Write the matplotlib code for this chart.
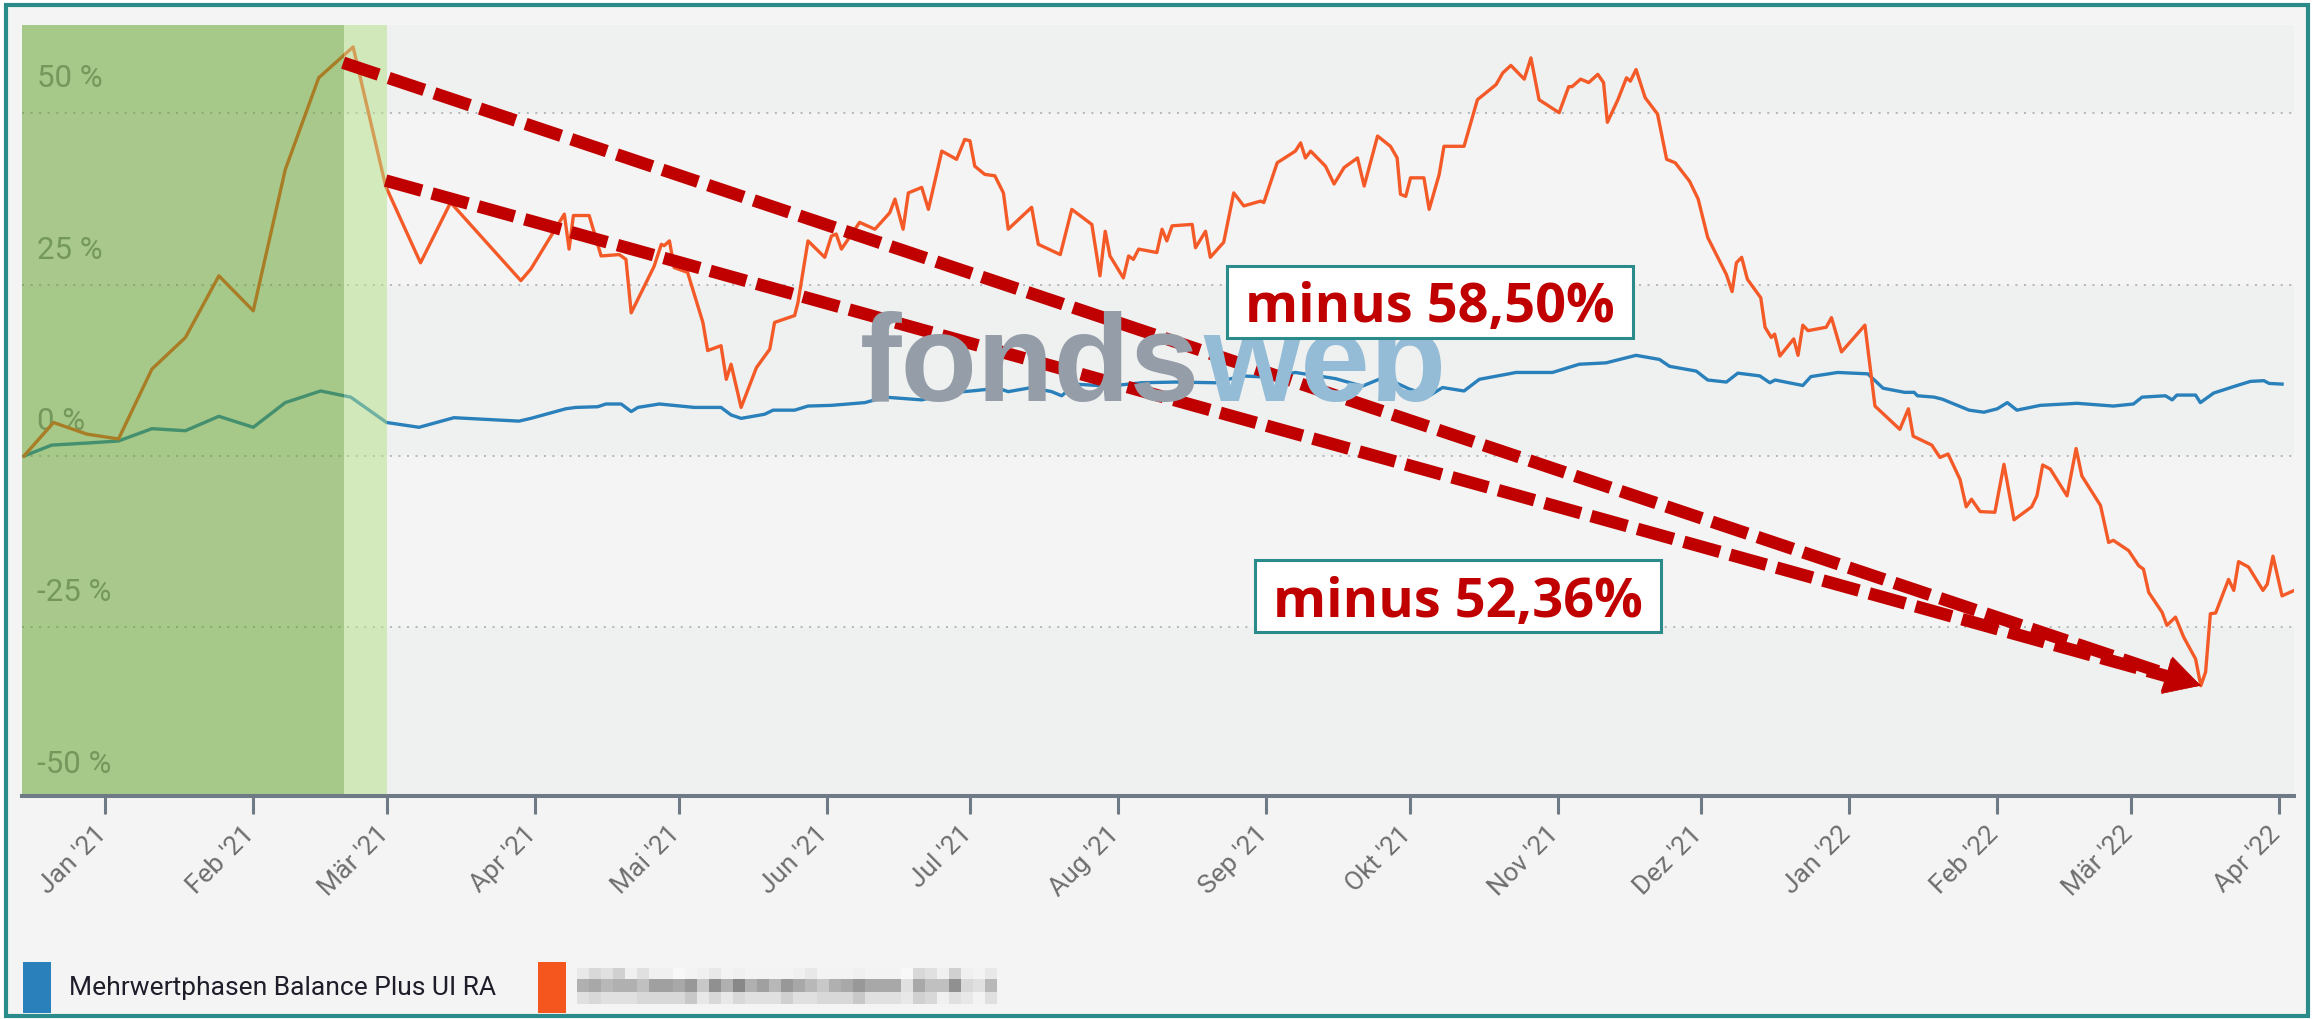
import numpy as np
import pandas as pd
import matplotlib
matplotlib.use("Agg")
import matplotlib.pyplot as plt
import matplotlib.dates as mdates
from matplotlib.patches import Rectangle
from matplotlib.transforms import ScaledTranslation, blended_transform_factory

plt.rcParams["font.family"] = ["Roboto", "DejaVu Sans"]

W, H = 2318, 1020
START = pd.Timestamp("2021-01-01")

# days after 1 Jan 2021 and performance in %
blue_days = [-17, -11.2, -3.8, 2.8, 9.8, 16.8, 23.8, 31.0, 37.7, 45.1, 51.4, 58.9, 65.7, 73.0,
             86.6, 89.1, 96.4, 98.5, 103.1, 104.8, 108.0, 110.1, 111.5, 116.0, 123.3, 128.9,
             131.0, 133.1, 138.0, 139.8, 144.3, 147.1, 152.0, 159.0, 163.2, 170.9, 177.8,
             181.3, 186.9, 189.0, 193.9, 198.1, 200.2, 203.0, 210.0, 217.0, 224.0, 232.4,
             237.9, 243.5, 249.1, 257.5, 263.1, 266.6, 270.1, 272.9, 277.1, 279.9, 284.4,
             287.6, 295.3, 299.1, 302.9, 308.5, 314.1, 320.4, 325.3, 327.4, 333.0, 335.4,
             339.3, 341.7, 346.3, 348.4, 349.5, 355.3, 357.0, 362.6, 368.9, 372.1, 376.6,
             378.6, 379.3, 382.8, 384.5, 390.1, 393.2, 396.0, 398.1, 400.1, 405.0, 412.7,
             420.3, 424.5, 426.3, 431.2, 432.6, 433.6, 437.5, 438.5, 441.3, 446.2, 449.0,
             451.8, 452.9, 455.6]
blue_vals = [0.0, 1.6, 1.9, 2.2, 4.0, 3.7, 5.8, 4.2, 7.8, 9.5, 8.6, 4.9, 4.2, 5.6,
             5.1, 5.5, 6.9, 7.1, 7.2, 7.6, 7.6, 6.5, 7.1, 7.6, 7.1, 7.1,
             6.0, 5.5, 6.1, 6.7, 6.7, 7.3, 7.4, 7.8, 8.6, 8.2, 9.3,
             9.5, 9.9, 9.4, 10.0, 9.4, 8.8, 10.5, 10.2, 10.7, 10.8, 10.7,
             11.7, 11.5, 12.2, 11.3, 10.2, 11.2, 10.7, 9.8, 8.8, 10.0, 9.5,
             11.2, 12.2, 12.2, 12.2, 13.4, 13.6, 14.7, 14.1, 13.1, 12.4, 11.1,
             10.8, 12.1, 11.7, 10.7, 11.1, 10.3, 11.6, 12.2, 12.0, 9.9, 9.3,
             9.3, 8.8, 8.6, 8.3, 6.7, 6.4, 6.9, 7.8, 6.7, 7.4, 7.7,
             7.3, 7.6, 8.6, 8.8, 8.2, 8.9, 8.9, 7.8, 9.2, 10.3, 10.9,
             11.0, 10.6, 10.5]

orange_days = [-17, -10.8, -3.8, 2.8, 9.8, 16.8, 23.8, 31.0, 37.7, 44.7, 51.9, 58.7, 66.0,
               72.3, 87.0, 89.1, 96.1, 97.1, 98.0, 101.3, 103.8, 107.6, 109.0, 110.1, 114.9,
               116.4, 117.0, 118.1, 119.1, 121.9, 125.1, 126.1, 128.9, 130.0, 131.0, 133.1,
               136.3, 139.1, 140.1, 144.3, 145.0, 147.1, 150.6, 152.0, 153.0, 154.1, 157.9,
               161.1, 164.2, 165.3, 167.0, 168.1, 170.9, 172.3, 175.1, 178.2, 179.9, 181.0,
               182.0, 184.1, 186.2, 188.0, 189.0, 193.9, 195.3, 199.9, 202.3, 206.5, 208.2,
               209.3, 210.3, 213.1, 214.2, 215.2, 216.3, 220.1, 221.2, 222.2, 223.3, 227.5,
               228.2, 230.3, 231.3, 234.1, 236.2, 238.3, 241.8, 242.5, 245.3, 249.1, 250.2,
               251.2, 252.3, 255.4, 257.2, 259.3, 262.1, 263.5, 266.3, 269.0, 270.4, 271.1,
               272.2, 273.2, 276.0, 277.1, 279.2, 280.2, 284.4, 287.2, 291.1, 292.5, 294.2,
               297.0, 298.4, 300.1, 304.3, 306.3, 307.0, 308.8, 310.5, 312.4, 313.6, 314.4,
               316.6, 318.4, 319.2, 320.4, 322.3, 324.9, 326.8, 328.6, 331.6, 333.4, 335.4,
               339.3, 340.5, 341.4, 342.5, 343.7, 346.5, 347.4, 348.7, 349.4, 350.5, 353.4,
               354.3, 355.3, 356.4, 360.2, 361.3, 363.4, 368.3, 370.4, 375.6, 377.4, 378.4,
               382.3, 384.0, 385.7, 388.2, 389.5, 390.6, 392.4, 395.5, 397.4, 399.5, 403.2,
               404.3, 405.5, 407.1, 410.6, 412.5, 413.7, 417.6, 419.3, 420.3, 423.5, 425.6,
               426.6, 427.7, 430.5, 431.5, 433.3, 435.0, 437.5, 438.6, 439.6, 440.6, 441.7,
               444.4, 445.5, 446.5, 448.6, 451.6, 452.5, 453.7, 455.6, 458.8]
orange_vals = [0.0, 4.9, 3.2, 2.5, 12.7, 17.3, 26.3, 21.2, 41.8, 55.2, 59.7, 39.4, 28.2,
               37.0, 25.6, 27.3, 35.3, 30.2, 35.1, 35.1, 29.2, 29.4, 28.7, 20.9, 27.7,
               30.9, 30.7, 31.4, 27.5, 26.8, 19.5, 15.4, 16.1, 11.2, 13.4, 7.1,
               12.9, 15.6, 19.5, 20.5, 22.4, 31.4, 29.0, 32.1, 32.4, 30.2, 34.1,
               33.1, 35.5, 37.5, 33.1, 38.4, 39.2, 36.0, 44.5, 43.3, 46.2, 46.0,
               42.3, 41.1, 40.9, 38.4, 33.1, 36.3, 30.9, 29.4, 36.0, 33.8, 26.3,
               32.8, 29.2, 26.0, 29.2, 28.7, 30.2, 29.7, 33.1, 31.4, 33.6, 33.8,
               30.4, 32.8, 29.0, 31.2, 38.4, 36.5, 37.2, 37.0, 42.8, 44.5, 45.7,
               43.5, 44.5, 42.3, 39.7, 42.1, 43.5, 39.4, 46.7, 45.2, 43.5, 38.2,
               37.9, 40.6, 40.6, 36.0, 41.1, 45.2, 45.2, 52.0, 54.2, 55.9, 57.0,
               55.0, 58.1, 52.0, 50.1, 53.9, 53.9, 55.0, 54.5, 55.7, 54.5, 48.7,
               52.0, 55.2, 54.7, 56.4, 52.3, 49.9, 43.3, 42.8, 40.1, 37.5, 31.9,
               26.5, 24.0, 28.2, 29.0, 25.8, 23.1, 18.8, 17.3, 17.8, 14.6, 17.1,
               14.7, 19.1, 18.3, 18.8, 20.2, 15.2, 19.1, 7.3, 3.9, 6.9, 2.9,
               1.6, -0.2, 0.3, -3.4, -7.4, -6.3, -8.1, -8.2, -1.2, -9.3, -7.4,
               -5.8, -1.3, -1.9, -5.8, 1.1, -2.9, -7.2, -12.6, -12.3, -13.8, -16.0,
               -16.5, -19.9, -22.8, -24.7, -23.5, -26.4, -29.6, -33.5, -31.5, -23.0, -22.9,
               -18.0, -19.6, -15.4, -16.2, -19.6, -18.7, -14.6, -20.4, -19.4]

tick_labels = ["Jan '21", "Feb '21", "Mär '21", "Apr '21", "Mai '21", "Jun '21", "Jul '21",
               "Aug '21", "Sep '21", "Okt '21", "Nov '21", "Dez '21", "Jan '22", "Feb '22",
               "Mär '22", "Apr '22"]
ytick_vals = [50, 25, 0, -25, -50]
ytick_labels = ["50 %", "25 %", "0 %", "-25 %", "-50 %"]
legend_label = "Mehrwertphasen Balance Plus UI RA"
box_texts = ["minus 58,50%", "minus 52,36%"]

# shaded periods (green) and arrow start points (day, %)
shade_dark_end = "2021-02-20"
shade_light_end = "2021-03-01"
arrow_starts = [(49.8, 57.4), (58.7, 40.2)]

# pixelated (blurred) name of the second fund, gray level per block: '.' = background
blur_rows = ["dbcaeceef.ed.e....ed...e...fbceae.d",
             "657668445392616473579653555c5882bc7",
             "cbcccbbbb9dbdbcccaccbbb9cccdabecd.c"]

BLUE = "#2a80ba"
ORANGE = "#f45a28"
RED = "#c00000"
TEAL = "#2b8b8a"


def fx(x):
    return x / W


def fy(y):
    return 1 - y / H


def to_dates(days):
    return START + pd.to_timedelta(np.array(days, dtype=float), unit="D")


def dnum(ts):
    return mdates.date2num(pd.Timestamp(ts).to_pydatetime())


fig = plt.figure(figsize=(W / 100, H / 100), dpi=100)
fig.patch.set_facecolor("white")

# outer frame
frame = Rectangle((fx(6), fy(1017)), fx(2308) - fx(6), fy(6) - fy(1017), transform=fig.transFigure,
                  facecolor="#f4f4f4", edgecolor=TEAL, lw=3, zorder=-2)
fig.add_artist(frame)

ax = fig.add_axes([fx(22), fy(797), fx(2294) - fx(22), fy(26) - fy(797)])
ax.set_facecolor("#f4f4f4")

blue_x = to_dates(blue_days)
orange_x = to_dates(orange_days)

ax.plot(blue_x, blue_vals, color=BLUE, lw=2.4, zorder=3, solid_joinstyle="round")
ax.plot(orange_x, orange_vals, color=ORANGE, lw=2.4, zorder=3.5, solid_joinstyle="round")

ax.set_xlim(dnum(START + pd.Timedelta(days=-17.4)), dnum(START + pd.Timedelta(days=458.1)))
ax.set_ylim(-49.6, 62.9)

# alternating plot bands
for lo, hi in [(50, 70), (0, 25), (-60, -25)]:
    ax.axhspan(lo, hi, color="#eff1f0", lw=0, zorder=0)

for v in ytick_vals[:-1]:
    ax.axhline(v, color="#a2a6ad", lw=1.1, ls=(0, (1.3, 4.3)), zorder=1)

# y labels sit inside the plot, above their grid lines
ylab_tr = blended_transform_factory(ax.transAxes, ax.transData) + \
    ScaledTranslation(0, 27 / 100, fig.dpi_scale_trans)
for v, lab in zip(ytick_vals, ytick_labels):
    ax.text(0.0066, v, lab, transform=ylab_tr, fontsize=22.5, color="#8c9096",
            va="baseline", ha="left", zorder=2)

# watermark
fig.text(fx(1200), fy(401), "fonds", fontsize=90, fontweight="bold", family="Liberation Sans",
         color="#959ea8", ha="right", va="baseline", zorder=0.5)
fig.text(fx(1203), fy(401), "web", fontsize=90, fontweight="bold", family="Liberation Sans",
         color="#94bcd6", ha="left", va="baseline", zorder=0.5)

# green highlighted period
x0 = ax.get_xlim()[0]
ax.axvspan(x0, dnum(shade_dark_end), color=(94 / 255, 160 / 255, 36 / 255),
           alpha=0.5, lw=0, zorder=4)
ax.axvspan(dnum(shade_dark_end), dnum(shade_light_end),
           color=(180 / 255, 225 / 255, 136 / 255), alpha=0.5, lw=0, zorder=4)
ax.set_xlim(x0, ax.get_xlim()[1])

# axes styling
for s in ["top", "left", "right"]:
    ax.spines[s].set_visible(False)
ax.spines["bottom"].set_color("#6f7a87")
ax.spines["bottom"].set_linewidth(2.9)
ax.spines["bottom"].set_zorder(5)
ax.set_yticks([])

tick_dates = [dnum(t) for t in pd.date_range("2021-01-01", "2022-04-01", freq="MS")]
ax.set_xticks(tick_dates)
ax.set_xticklabels(tick_labels, rotation=45, ha="right", fontsize=19, color="#6e6e6e")
ax.tick_params(axis="x", length=13, width=2.2, color="#6f7a87", pad=5)
shift = ScaledTranslation(6 / 100, 0, fig.dpi_scale_trans)
for lab in ax.get_xticklabels():
    lab.set_transform(lab.get_transform() + shift)

# dashed arrows to the low of the orange series
imin = int(np.argmin(orange_vals))
tip = np.array([dnum(orange_x[imin]), orange_vals[imin]])
HEAD_PX = 35
for d, v in arrow_starts:
    start = np.array([dnum(to_dates([d])[0]), v])
    p0 = ax.transData.transform(start)
    p1 = ax.transData.transform(tip)
    u = (p1 - p0) / np.hypot(*(p1 - p0))
    base = ax.transData.inverted().transform(p1 - u * HEAD_PX)
    ax.plot([start[0], base[0]], [start[1], base[1]], color=RED, lw=9,
            ls=(0, (3.0, 0.85)), solid_capstyle="butt", dash_capstyle="butt", zorder=6)
    ax.annotate("", xy=tip, xytext=base,
                arrowprops=dict(arrowstyle="-|>,head_length=2.52,head_width=1.3", color=RED,
                                lw=0.5, mutation_scale=10, shrinkA=0, shrinkB=0),
                zorder=6)

# text boxes
boxes = [(1227, 267, 1633, 339, 1430, 322), (1255, 561, 1661, 633, 1458, 617)]
for (l, t, r, b, cx, by), txt in zip(boxes, box_texts):
    fig.add_artist(Rectangle((fx(l), fy(b)), fx(r) - fx(l), fy(t) - fy(b), transform=fig.transFigure,
                             facecolor="white", edgecolor=TEAL, lw=2.2, zorder=8))
    fig.text(fx(cx), fy(by), txt, family="Open Sans", fontweight="bold", fontsize=39,
             color=RED, ha="center", va="baseline", zorder=9)

# legend
fig.add_artist(Rectangle((fx(23), fy(1014)), fx(51) - fx(23), fy(963) - fy(1014),
                         transform=fig.transFigure, facecolor=BLUE, lw=0))
fig.text(fx(69), fy(988), legend_label, fontsize=19, color="#1e1e2a", va="center", ha="left")
fig.add_artist(Rectangle((fx(538), fy(1014)), fx(566) - fx(538), fy(963) - fy(1014),
                         transform=fig.transFigure, facecolor="#f5561e", lw=0))

levels = np.array([[244 if c == "." else 128 + 8 * int(c, 16) for c in row] for row in blur_rows])
bax = fig.add_axes([fx(577), fy(1005), fx(997) - fx(577), fy(969) - fy(1005)])
bax.imshow(levels, cmap="gray", vmin=0, vmax=255, aspect="auto", interpolation="nearest")
bax.axis("off")

fig.savefig("out.png", dpi=100, facecolor="white")
